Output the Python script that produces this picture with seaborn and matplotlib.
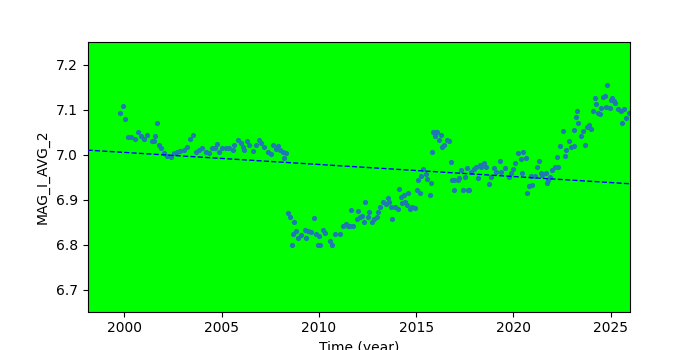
import matplotlib
matplotlib.use("Agg")
import matplotlib.pyplot as plt
import seaborn as sns
import numpy as np
import pandas as pd

time_year = [
    1999.76, 1999.90, 2000.03, 2000.18, 2000.35, 2000.52, 2000.68, 2000.85, 2000.98, 2001.15,
    2001.40, 2001.50, 2001.55, 2001.66, 2001.78, 2001.86, 2002.03, 2002.20, 2002.37, 2002.55,
    2002.72, 2002.88, 2003.05, 2003.22, 2003.38, 2003.52, 2003.67, 2003.84, 2004.00, 2004.18,
    2004.35, 2004.52, 2004.64, 2004.78, 2004.86, 2005.03, 2005.20, 2005.37, 2005.57, 2005.65,
    2005.83, 2006.00, 2006.08, 2006.17, 2006.30, 2006.43, 2006.60, 2006.77, 2006.90, 2007.03,
    2007.20, 2007.37, 2007.54, 2007.65, 2007.78, 2007.92, 2008.02, 2008.14, 2008.23, 2008.30,
    2008.42, 2008.50, 2008.60, 2008.68, 2008.71, 2008.80, 2008.94, 2009.10, 2009.28, 2009.36,
    2009.45, 2009.60, 2009.75, 2009.84, 2009.95, 2010.00, 2010.08, 2010.20, 2010.30, 2010.55,
    2010.67, 2010.85, 2011.07, 2011.25, 2011.40, 2011.52, 2011.60, 2011.65, 2011.77, 2011.95,
    2012.03, 2012.12, 2012.20, 2012.30, 2012.36, 2012.50, 2012.60, 2012.73, 2012.85, 2012.98,
    2013.05, 2013.14, 2013.30, 2013.44, 2013.56, 2013.60, 2013.70, 2013.78, 2013.90, 2014.07,
    2014.12, 2014.20, 2014.26, 2014.40, 2014.43, 2014.54, 2014.60, 2014.70, 2014.80, 2014.95,
    2015.03, 2015.10, 2015.18, 2015.27, 2015.37, 2015.50, 2015.57, 2015.70, 2015.74, 2015.80,
    2015.87, 2015.95, 2016.03, 2016.10, 2016.20, 2016.26, 2016.33, 2016.42, 2016.60, 2016.67,
    2016.77, 2016.84, 2016.96, 2016.97, 2017.13, 2017.20, 2017.30, 2017.40, 2017.50, 2017.60,
    2017.65, 2017.74, 2017.83, 2018.00, 2018.08, 2018.17, 2018.26, 2018.35, 2018.49, 2018.60,
    2018.74, 2018.86, 2019.03, 2019.11, 2019.30, 2019.37, 2019.55, 2019.80, 2019.90, 2020.00,
    2020.08, 2020.26, 2020.37, 2020.43, 2020.50, 2020.65, 2020.70, 2020.80, 2020.90, 2020.97,
    2021.10, 2021.20, 2021.30, 2021.40, 2021.47, 2021.66, 2021.73, 2021.80, 2021.90, 2022.00,
    2022.16, 2022.24, 2022.30, 2022.40, 2022.54, 2022.66, 2022.71, 2022.84, 2022.95, 2023.10,
    2023.13, 2023.20, 2023.25, 2023.30, 2023.47, 2023.56, 2023.70, 2023.80, 2023.90, 2024.00,
    2024.10, 2024.20, 2024.26, 2024.36, 2024.45, 2024.50, 2024.60, 2024.70, 2024.77, 2024.80,
    2024.95, 2025.00, 2025.10, 2025.20, 2025.25, 2025.36, 2025.53, 2025.60, 2025.70, 2025.80,
    2025.95,
]

mag_i_avg_2 = [
    7.093, 7.109, 7.080, 7.039, 7.040, 7.035, 7.050, 7.042, 7.035, 7.044,
    7.031, 7.032, 7.043, 7.070, 7.022, 7.015, 7.004, 6.998, 6.996, 7.004,
    7.007, 7.009, 7.012, 7.018, 7.035, 7.044, 7.007, 7.010, 7.015, 7.007,
    7.004, 7.015, 7.015, 7.024, 7.007, 7.015, 7.015, 7.016, 7.011, 7.022,
    7.034, 7.026, 7.018, 7.011, 7.030, 7.022, 7.009, 7.022, 7.034, 7.026,
    7.018, 7.007, 7.001, 7.022, 7.013, 7.020, 7.012, 7.006, 6.993, 7.004,
    6.870, 6.861, 6.800, 6.824, 6.850, 6.830, 6.815, 6.821, 6.833, 6.815,
    6.831, 6.828, 6.859, 6.824, 6.800, 6.819, 6.799, 6.833, 6.826, 6.809,
    6.800, 6.824, 6.824, 6.841, 6.846, 6.843, 6.841, 6.878, 6.843, 6.858,
    6.876, 6.863, 6.864, 6.852, 6.895, 6.863, 6.873, 6.852, 6.858, 6.861,
    6.874, 6.885, 6.896, 6.890, 6.904, 6.895, 6.884, 6.857, 6.884, 6.880,
    6.924, 6.906, 6.893, 6.911, 6.896, 6.889, 6.915, 6.879, 6.885, 6.881,
    6.922, 6.944, 6.916, 6.953, 6.968, 6.958, 6.946, 6.911, 6.937, 7.007,
    7.052, 7.041, 7.052, 7.052, 7.033, 7.044, 7.018, 7.022, 7.033, 7.030,
    6.985, 6.944, 6.922, 6.944, 6.944, 6.948, 6.967, 6.922, 6.952, 6.970,
    6.922, 6.922, 6.963, 6.968, 6.973, 6.948, 6.978, 6.974, 6.982, 6.973,
    6.935, 6.952, 6.970, 6.963, 6.987, 6.963, 6.970, 6.952, 6.959, 6.968,
    6.982, 7.004, 6.990, 6.959, 7.007, 6.993, 6.916, 6.930, 6.953, 6.933,
    6.953, 6.974, 6.987, 6.959, 6.956, 6.959, 6.937, 6.944, 6.952, 6.967,
    6.974, 6.995, 6.974, 7.020, 7.054, 6.998, 7.011, 7.032, 7.017, 7.020,
    7.056, 7.084, 7.098, 7.072, 7.042, 7.054, 7.022, 7.062, 7.067, 7.057,
    7.098, 7.126, 7.113, 7.094, 7.091, 7.104, 7.128, 7.130, 7.106, 7.156,
    7.104, 7.122, 7.126, 7.119, 7.115, 7.102, 7.098, 7.070, 7.102, 7.082,
    7.093,
]

# linear trend fit parameters (value at reference year and slope per year)
trend_ref_year = 2000.0
trend_ref_value = 7.0056
trend_slope = -0.00268

x_limits = [1998.1, 2026.0]
y_limits = [6.652, 7.251]

df = pd.DataFrame({"Time (year)": time_year, "MAG_I_AVG_2": mag_i_avg_2})

fig, ax = plt.subplots(figsize=(7, 3.5), dpi=100)
ax.set_facecolor("#00ff00")

sns.scatterplot(data=df, x="Time (year)", y="MAG_I_AVG_2", ax=ax,
                color="#1f77b4", s=14, linewidth=0, marker="o", zorder=2)

tx = np.array(x_limits)
ty = trend_ref_value + trend_slope * (tx - trend_ref_year)
ax.plot(tx, ty, linestyle="--", color="blue", linewidth=1, zorder=3)

ax.set_xlim(*x_limits)
ax.set_ylim(*y_limits)
ax.set_xticks([2000, 2005, 2010, 2015, 2020, 2025])
ax.set_yticks([6.7, 6.8, 6.9, 7.0, 7.1, 7.2])
ax.set_xlabel("Time (year)")
ax.set_ylabel("MAG_I_AVG_2")

fig.savefig("out.png", dpi=100)
